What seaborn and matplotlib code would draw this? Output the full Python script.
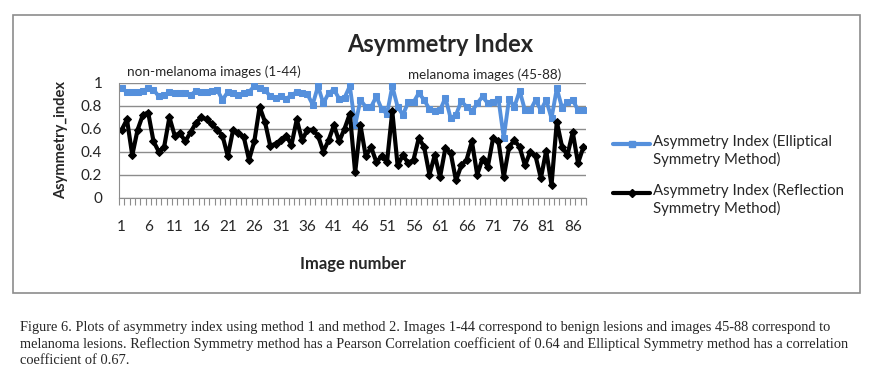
import numpy as np
import pandas as pd
import matplotlib.pyplot as plt
from matplotlib.lines import Line2D
from matplotlib.patches import Rectangle
import seaborn as sns

image_number = list(range(1, 89))

elliptical = [0.95, 0.92, 0.92, 0.92, 0.93, 0.95, 0.94, 0.88, 0.89, 0.92,
              0.91, 0.91, 0.91, 0.89, 0.93, 0.92, 0.92, 0.93, 0.94, 0.85,
              0.92, 0.91, 0.89, 0.91, 0.92, 0.97, 0.95, 0.94, 0.88, 0.87,
              0.88, 0.86, 0.89, 0.92, 0.91, 0.90, 0.81, 0.97, 0.82, 0.91,
              0.94, 0.86, 0.87, 0.97, 0.63, 0.85, 0.79, 0.79, 0.88, 0.77,
              0.73, 0.97, 0.79, 0.72, 0.83, 0.83, 0.91, 0.85, 0.77, 0.75,
              0.76, 0.87, 0.69, 0.72, 0.84, 0.79, 0.75, 0.82, 0.88, 0.82,
              0.83, 0.86, 0.52, 0.86, 0.79, 0.93, 0.76, 0.76, 0.85, 0.76,
              0.85, 0.69, 0.95, 0.78, 0.83, 0.85, 0.76, 0.76]

reflection = [0.59, 0.68, 0.37, 0.59, 0.72, 0.74, 0.49, 0.40, 0.44, 0.70,
              0.54, 0.56, 0.49, 0.57, 0.65, 0.70, 0.68, 0.64, 0.59, 0.54,
              0.36, 0.59, 0.56, 0.53, 0.33, 0.49, 0.79, 0.66, 0.45, 0.47,
              0.50, 0.54, 0.46, 0.68, 0.50, 0.59, 0.59, 0.54, 0.40, 0.50,
              0.63, 0.49, 0.60, 0.73, 0.22, 0.63, 0.36, 0.44, 0.31, 0.36,
              0.31, 0.75, 0.28, 0.37, 0.30, 0.33, 0.52, 0.44, 0.20, 0.37,
              0.18, 0.43, 0.39, 0.15, 0.28, 0.33, 0.49, 0.20, 0.34, 0.27,
              0.52, 0.49, 0.18, 0.44, 0.50, 0.44, 0.28, 0.40, 0.36, 0.17,
              0.41, 0.11, 0.66, 0.44, 0.37, 0.57, 0.30, 0.44]

label_ell = "Asymmetry Index (Elliptical\nSymmetry Method)"
label_ref = "Asymmetry Index (Reflection\nSymmetry Method)"
blue = "#5590DC"

df = pd.DataFrame({
    "image": image_number * 2,
    "value": elliptical + reflection,
    "method": ["Elliptical"] * 88 + ["Reflection"] * 88,
})

sns.set_style("white")
plt.rcParams["font.family"] = ["Lato", "DejaVu Sans"]

fig = plt.figure(figsize=(8.86, 3.87), dpi=100)
ax = fig.add_axes([119 / 886, 1 - 197.7 / 387, (586 - 119) / 886, (197.7 - 82.7) / 387])

sns.lineplot(data=df[df.method == "Elliptical"], x="image", y="value", ax=ax,
             color=blue, linewidth=2.8, marker="s", markersize=4.5,
             markeredgecolor=blue, legend=False)
sns.lineplot(data=df[df.method == "Reflection"], x="image", y="value", ax=ax,
             color="black", linewidth=3, marker="D", markersize=4,
             markeredgecolor="black", legend=False)

ax.set_xlim(0.5, 88.5)
ax.set_ylim(0, 1)
ax.set_yticks(np.arange(0, 1.01, 0.2))
ax.set_yticklabels(["0", "0.2", "0.4", "0.6", "0.8", "1"])
ax.yaxis.grid(True, color="#8c8c8c", linewidth=1)
ax.xaxis.grid(False)
ax.set_xticks(image_number[::5])
ax.set_xticks(np.arange(0.5, 89, 1), minor=True)
ax.tick_params(axis="x", which="major", length=0, pad=16, labelsize=11)
ax.tick_params(axis="x", which="minor", length=5, width=0.8, color="#8c8c8c",
               direction="out", bottom=True)
ax.tick_params(axis="y", length=0, pad=12, labelsize=11)
for s in ["top", "right"]:
    ax.spines[s].set_visible(False)
ax.spines["left"].set_color("#8c8c8c")
ax.spines["bottom"].set_color("#8c8c8c")
ax.set_axisbelow(True)

ax.set_xlabel("Image number", fontsize=12, fontweight="bold", labelpad=16)
ax.set_ylabel("Asymmetry_index", fontsize=10.5, fontweight="bold", labelpad=9)

fig.text(440 / 886, 1 - 45 / 387, "Asymmetry Index", ha="center", va="center",
         fontsize=17, fontweight="bold")
fig.text(127 / 886, 1 - 72 / 387, "non-melanoma images (1-44)", ha="left",
         va="center", fontsize=9.7)
fig.text(408 / 886, 1 - 75 / 387, "melanoma images (45-88)", ha="left",
         va="center", fontsize=9.7)

# legend drawn by hand so the handle lines up with the first text line
for yy, col, mk, lab in [(144, blue, "s", label_ell), (193, "black", "D", label_ref)]:
    fy = 1 - yy / 387
    fig.add_artist(Line2D([613 / 886, 650 / 886], [fy, fy], color=col,
                          linewidth=3, transform=fig.transFigure))
    fig.add_artist(Line2D([631.5 / 886], [fy], color=col, marker=mk,
                          markersize=4, transform=fig.transFigure))
    fig.text(653 / 886, fy + 10 / 387, lab, ha="left", va="top",
             fontsize=10.8, linespacing=1.25)

fig.add_artist(Rectangle((13 / 886, 1 - 293 / 387), (860 - 13) / 886, (293 - 15) / 387,
                         transform=fig.transFigure, fill=False,
                         edgecolor="#8c8c8c", linewidth=1.2))

caption = ("Figure 6. Plots of asymmetry index using method 1 and method 2. Images 1-44 "
           "correspond to benign lesions and images 45-88 correspond to\n"
           "melanoma lesions. Reflection Symmetry method has a Pearson Correlation "
           "coefficient of 0.64 and Elliptical Symmetry method has a correlation\n"
           "coefficient of 0.67.")
fig.text(20 / 886, 1 - 320 / 387, caption, ha="left", va="top",
         family=["Liberation Serif", "DejaVu Serif"], fontsize=10.4, linespacing=1.3)

fig.savefig("out.png", dpi=100)
